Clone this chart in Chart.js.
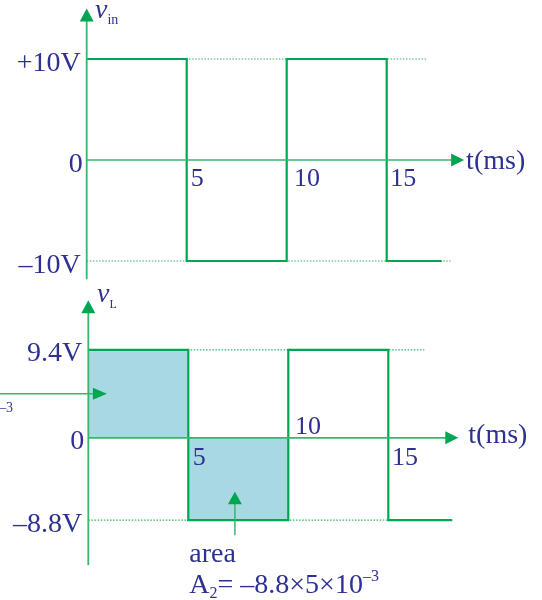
<!DOCTYPE html>
<html>
<head>
<meta charset="utf-8">
<script src="https://cdn.jsdelivr.net/npm/chart.js@4.4.1/dist/chart.umd.min.js"></script>
<style>
  html, body { margin: 0; padding: 0; background: #fff; }
  #wrap { position: relative; width: 542px; height: 600px; overflow: hidden; }
  canvas { position: absolute; left: 0; }
  #vinChart { top: 0; }
  #vLChart { top: 280px; }
</style>
</head>
<body>
<div id="wrap">
  <canvas id="vinChart" width="542" height="300"></canvas>
  <canvas id="vLChart" width="542" height="320"></canvas>
</div>
<script>
// ---- data ----
// input voltage v_in (square wave)
const vinTimes = [0, 5, 10, 15, 17.75];
const vinLevels = [10, -10, 10, -10, -10];
const vinTickTimes = [5, 10, 15];
const vinTickLabels = ['5', '10', '15'];
const vinLevelTicks = [10, 0, -10];
const vinLevelLabels = ['+10V', '0', '\u201310V'];
const vinGuideLevels = [10, -10];
const vinGuideEnds = [17.0, 18.2];

// inductor voltage v_L
const vLTimes = [0, 5, 10, 15, 18.2];
const vLLevels = [9.4, -8.8, 9.4, -8.8, -8.8];
const vLTickTimes = [5, 10, 15];
const vLTickLabels = ['5', '10', '15'];
const vLLevelTicks = [9.4, 0, -8.8];
const vLLevelLabels = ['9.4V', '0', '\u20138.8V'];
const vLGuideLevels = [9.4, -8.8];
const vLGuideEnds = [16.8, 15];

// shaded areas A1 (0-5 ms) and A2 (5-10 ms)
const areaStarts = [0, 5];
const areaEnds = [5, 10];
const areaLevels = [9.4, -8.8];

// ---- styles ----
const GREEN = '#00A651';
const AXIS = '#3AB56C';
const DOTS = '#35B068';
const FILL = '#A8D8E2';
const NAVY = '#2E3192';
const SERIF = '"Liberation Serif", "Times New Roman", serif';

function pts(ts, vs) {
  return ts.map((t, i) => ({ x: t, y: vs[i] }));
}

function seg(ctx, x1, y1, x2, y2, w, c) {
  ctx.beginPath();
  ctx.moveTo(x1, y1);
  ctx.lineTo(x2, y2);
  ctx.lineWidth = w;
  ctx.strokeStyle = c;
  ctx.stroke();
}

function arrow(ctx, x, y, dir, len, half) {
  ctx.beginPath();
  if (dir === 'up') {
    ctx.moveTo(x, y);
    ctx.lineTo(x - half, y + len);
    ctx.lineTo(x + half, y + len);
  } else {
    ctx.moveTo(x, y);
    ctx.lineTo(x - len, y - half);
    ctx.lineTo(x - len, y + half);
  }
  ctx.closePath();
  ctx.fillStyle = GREEN;
  ctx.fill();
}

function txt(ctx, s, x, y, size, align, italic) {
  ctx.font = (italic ? 'italic ' : '') + size + 'px ' + SERIF;
  ctx.fillStyle = NAVY;
  ctx.textAlign = align || 'left';
  ctx.textBaseline = 'alphabetic';
  ctx.fillText(s, x, y);
  return ctx.measureText(s).width;
}

// axes with arrows, level labels, tick labels, names
function sketchPlugin(spec) {
  return {
    id: 'sketch',
    afterDatasetsDraw(chart) {
      const ctx = chart.ctx;
      const X = v => chart.scales.x.getPixelForValue(v);
      const Y = v => chart.scales.y.getPixelForValue(v);
      ctx.save();

      // vertical axis
      seg(ctx, X(0), Y(spec.yFrom), X(0), Y(spec.yTo) + 10, 1.8, AXIS);
      arrow(ctx, X(0), Y(spec.yTo), 'up', 13, 7);
      // time axis
      seg(ctx, X(0), Y(0), X(spec.tTo) - 10, Y(0), 1.6, AXIS);
      arrow(ctx, X(spec.tTo), Y(0), 'right', 13, 6.5);

      // level labels
      spec.levelTicks.forEach((v, i) => {
        const dx = v === 0 ? -4 : -6;
        txt(ctx, spec.levelLabels[i], X(0) + dx, Y(v) + 11.5, 28, 'right');
      });
      // time tick labels
      spec.tickTimes.forEach((t, i) => {
        const o = spec.tickOffsets[i];
        txt(ctx, spec.tickLabels[i], X(t) + o[0], Y(0) + o[1], 26, 'left');
      });
      txt(ctx, 't(ms)', X(spec.tTo) + spec.tLabel[0], Y(0) + spec.tLabel[1], 28, 'left');

      // axis name v with subscript
      const nx = X(0) + spec.name[0];
      const ny = Y(spec.yTo) + spec.name[1];
      const w = txt(ctx, 'v', nx, ny, 28, 'left', true);
      txt(ctx, spec.sub, nx + w, ny + spec.name[2], spec.name[3], 'left');

      if (spec.extras) spec.extras(ctx, X, Y);
      ctx.restore();
    }
  };
}

function guideSets(levels, ends) {
  return levels.map((lv, i) => ({
    data: [{ x: 0, y: lv }, { x: ends[i], y: lv }],
    borderColor: DOTS,
    borderWidth: 1.2,
    borderDash: [1.5, 1.6],
    pointRadius: 0,
    fill: false
  }));
}

function baseOptions(xMin, xMax, yMin, yMax, pad) {
  return {
    responsive: false,
    animation: false,
    layout: { padding: pad },
    plugins: { legend: { display: false }, tooltip: { enabled: false } },
    scales: {
      x: { type: 'linear', min: xMin, max: xMax, display: false },
      y: { type: 'linear', min: yMin, max: yMax, display: false }
    }
  };
}

// ---- top chart: v_in ----
new Chart(document.getElementById('vinChart'), {
  type: 'line',
  data: {
    datasets: [
      {
        data: pts(vinTimes, vinLevels),
        stepped: 'before',
        borderColor: GREEN,
        borderWidth: 2.2,
        pointRadius: 0,
        fill: false
      }
    ].concat(guideSets(vinGuideLevels, vinGuideEnds))
  },
  options: baseOptions(-1, 20, -13, 15, { left: 66.7, right: 55.3, top: 8.5, bottom: 8.7 }),
  plugins: [sketchPlugin({
    yFrom: -11.8, yTo: 15, tTo: 18.87,
    levelTicks: vinLevelTicks, levelLabels: vinLevelLabels,
    tickTimes: vinTickTimes, tickLabels: vinTickLabels,
    tickOffsets: [[4, 26], [7.4, 26], [3.5, 26]],
    tLabel: [2, 9],
    sub: 'in', name: [8.3, 9.5, 6, 14]
  })]
});

// ---- bottom chart: v_L ----
new Chart(document.getElementById('vLChart'), {
  type: 'line',
  data: {
    datasets: [
      {
        data: pts(vLTimes, vLLevels),
        stepped: 'before',
        borderColor: GREEN,
        borderWidth: 2.2,
        pointRadius: 0,
        fill: false
      }
    ].concat(guideSets(vLGuideLevels, vLGuideEnds)).concat(areaLevels.map((lv, i) => ({
      data: [{ x: areaStarts[i], y: lv }, { x: areaEnds[i], y: lv }],
      borderColor: 'transparent',
      borderWidth: 0,
      backgroundColor: FILL,
      pointRadius: 0,
      fill: 'origin'
    })))
  },
  options: baseOptions(-1, 20, -14, 14.7, { left: 68.3, right: 53.7, top: 20.3, bottom: 31.15 }),
  plugins: [sketchPlugin({
    yFrom: -13.6, yTo: 14.7, tTo: 18.5,
    levelTicks: vLLevelTicks, levelLabels: vLLevelLabels,
    tickTimes: vLTickTimes, tickLabels: vLTickLabels,
    tickOffsets: [[4.5, 27], [6.7, -4], [3.7, 27]],
    tLabel: [10, 5],
    sub: 'L', name: [8.7, 1.7, 6, 12],
    extras: function(ctx, X, Y) {
      // arrow pointing at area A1 (label cut off on the left)
      const ay = Y(4.7);
      seg(ctx, 0, ay, X(0.93) - 12, ay, 1.5, AXIS);
      arrow(ctx, X(0.93), ay, 'right', 14, 6);
      txt(ctx, '\u20133', -1, ay + 18, 14, 'left');

      // arrow pointing at area A2
      const bx = X(7.33), by = Y(-8.8);
      seg(ctx, bx, by + 15, bx, by - 28.5 + 10, 1.5, AXIS);
      arrow(ctx, bx, by - 28.5, 'up', 12.5, 7);

      const tx = X(5) + 1;
      txt(ctx, 'area', tx, by + 42, 28, 'left');
      let x = tx;
      const base = by + 73;
      x += txt(ctx, 'A', x, base, 28, 'left');
      x += txt(ctx, '2', x, base + 5, 16, 'left');
      x += txt(ctx, '= \u20138.8\u00d75\u00d710', x, base, 28, 'left');
      txt(ctx, '\u20133', x, base - 12, 16, 'left');
    }
  })]
});
</script>
</body>
</html>
